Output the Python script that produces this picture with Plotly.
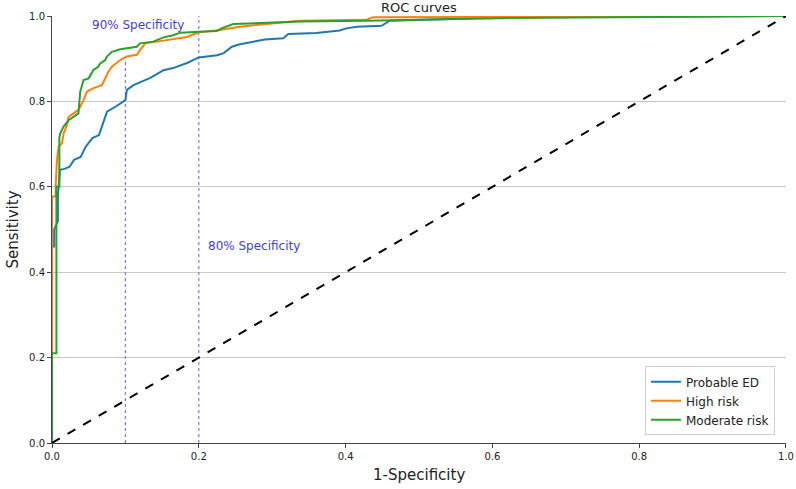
import plotly.graph_objects as go

# ---------------- data ----------------
probable_ed_fpr = [0, 0, 0.003, 0.003, 0.008, 0.008, 0.011, 0.017, 0.024, 0.030, 0.039, 0.046, 0.055,
                   0.064, 0.071, 0.075, 0.087, 0.098, 0.100, 0.102, 0.111, 0.134, 0.152, 0.165, 0.184,
                   0.200, 0.225, 0.234, 0.245, 0.256, 0.290, 0.315, 0.322, 0.360, 0.392, 0.401, 0.415,
                   0.449, 0.460, 0.540, 0.610, 0.800, 1.0]
probable_ed_tpr = [0, 0.46, 0.46, 0.50, 0.52, 0.58, 0.64, 0.642, 0.647, 0.663, 0.670, 0.694, 0.714,
                   0.721, 0.756, 0.776, 0.788, 0.800, 0.803, 0.827, 0.838, 0.855, 0.873, 0.878, 0.890,
                   0.903, 0.908, 0.913, 0.928, 0.934, 0.945, 0.948, 0.958, 0.960, 0.966, 0.971, 0.975,
                   0.977, 0.989, 0.993, 0.997, 0.999, 1.0]

high_risk_fpr = [0, 0, 0.005, 0.005, 0.0068, 0.009, 0.0136, 0.0158, 0.0204, 0.0226, 0.0294, 0.036,
                 0.0385, 0.043, 0.0476, 0.0566, 0.068, 0.0725, 0.077, 0.0816, 0.093, 0.102, 0.1156,
                 0.120, 0.127, 0.143, 0.165, 0.184, 0.200, 0.229, 0.256, 0.3015, 0.338, 0.428, 0.437,
                 0.647, 1.0]
high_risk_tpr = [0, 0.577, 0.577, 0.60, 0.663, 0.694, 0.702, 0.725, 0.745, 0.764, 0.772, 0.780,
                 0.788, 0.803, 0.823, 0.831, 0.838, 0.854, 0.870, 0.881, 0.897, 0.905, 0.909,
                 0.920, 0.936, 0.940, 0.945, 0.951, 0.962, 0.967, 0.975, 0.983, 0.989, 0.991, 0.997,
                 0.998, 1.0]

moderate_risk_fpr = [0, 0, 0.006, 0.006, 0.010, 0.010, 0.0113, 0.0158, 0.0226, 0.036, 0.0385, 0.043,
                     0.050, 0.0566, 0.063, 0.0657, 0.0725, 0.0748, 0.0816, 0.093, 0.1156, 0.120,
                     0.138, 0.152, 0.165, 0.1746, 0.200, 0.2245, 0.231, 0.247, 0.338, 0.428, 0.610, 1.0]
moderate_risk_tpr = [0, 0.21, 0.21, 0.60, 0.60, 0.715, 0.725, 0.741, 0.756, 0.772, 0.823, 0.850,
                     0.854, 0.874, 0.881, 0.889, 0.897, 0.905, 0.916, 0.922, 0.928, 0.936,
                     0.940, 0.950, 0.955, 0.961, 0.963, 0.965, 0.971, 0.981, 0.987, 0.989, 0.995, 1.0]

chance_x = [0, 1]
chance_y = [0, 1]

spec_x = [0.1, 0.2]
spec_top = [0.9, 1.0]
spec_labels = ["90% Specificity", "80% Specificity"]
spec_label_x = [0.052, 0.21]
spec_label_y = [0.979, 0.461]

tick_vals = [0.0, 0.2, 0.4, 0.6, 0.8, 1.0]
tick_text = ["0.0", "0.2", "0.4", "0.6", "0.8", "1.0"]

series = [
    ("Probable ED", probable_ed_fpr, probable_ed_tpr, "#1f77b4"),
    ("High risk", high_risk_fpr, high_risk_tpr, "#ff7f0e"),
    ("Moderate risk", moderate_risk_fpr, moderate_risk_tpr, "#2ca02c"),
]

FONT = "DejaVu Sans"
fig = go.Figure()

# specificity reference lines
for sx, st in zip(spec_x, spec_top):
    fig.add_trace(go.Scatter(x=[sx, sx], y=[0, st], mode="lines", showlegend=False, hoverinfo="skip",
                             line=dict(color="#7a7aff", width=1.2, dash="dot")))

for name, fx, ty, col in series:
    fig.add_trace(go.Scatter(x=fx, y=ty, mode="lines", name=name,
                             line=dict(color=col, width=2)))

fig.add_trace(go.Scatter(x=chance_x, y=chance_y, mode="lines", showlegend=False,
                         line=dict(color="black", width=2, dash="dash")))

for txt, lx, ly in zip(spec_labels, spec_label_x, spec_label_y):
    fig.add_annotation(x=lx, y=ly, xref="x", yref="y", text=txt, showarrow=False,
                       xanchor="left", yanchor="middle",
                       font=dict(family=FONT, size=12, color="#4040e0"))

# axis titles
fig.add_annotation(x=0.5, y=-0.0749, xref="paper", yref="paper", text="1-Specificity",
                   showarrow=False, xanchor="center", yanchor="middle",
                   font=dict(family=FONT, size=15, color="#222"))
fig.add_annotation(x=-0.0544, y=0.5, xref="paper", yref="paper", text="Sensitivity",
                   showarrow=False, xanchor="center", yanchor="middle", textangle=-90,
                   font=dict(family=FONT, size=15, color="#222"))

fig.update_layout(
    width=796, height=489,
    margin=dict(l=52, r=10, t=16, b=46),
    paper_bgcolor="white", plot_bgcolor="white",
    font=dict(family=FONT, color="#222"),
    title=dict(text="ROC curves", x=0.5262, xanchor="center", y=1 - 7 / 489, yanchor="middle",
               font=dict(family=FONT, size=13, color="#222")),
    showlegend=True,
    legend=dict(x=0.985, y=0.018, xanchor="right", yanchor="bottom",
                bgcolor="white", bordercolor="#d0d0d0", borderwidth=1,
                font=dict(family=FONT, size=12, color="#222"), tracegroupgap=0),
)

fig.update_xaxes(range=[0, 1.00001], tickvals=tick_vals, ticktext=tick_text, showgrid=False,
                 zeroline=False, automargin=False, ticklabeloverflow="allow",
                 showline=True, linecolor="#444", linewidth=1, ticks="outside", ticklen=4,
                 tickcolor="#444", tickfont=dict(family=FONT, size=10, color="#222"))
fig.update_yaxes(range=[0, 1], tickvals=tick_vals, ticktext=tick_text, showgrid=True,
                 gridcolor="#c8c8c8", gridwidth=1, zeroline=False, automargin=False,
                 ticklabeloverflow="allow",
                 showline=True, linecolor="#444", linewidth=1, ticks="outside", ticklen=4,
                 tickcolor="#444", tickfont=dict(family=FONT, size=10, color="#222"))

fig.write_html("out.html", config={"displayModeBar": False, "responsive": False},
               post_script="document.body.style.margin='0';document.body.style.overflow='hidden';")
